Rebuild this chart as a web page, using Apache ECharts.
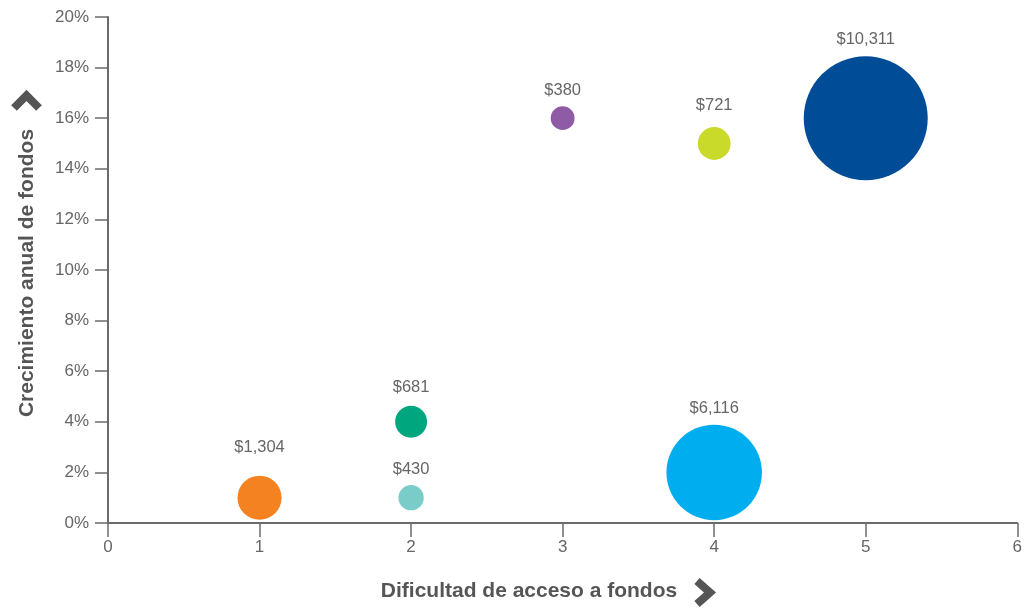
<!DOCTYPE html>
<html>
<head>
<meta charset="utf-8">
<script src="https://cdn.jsdelivr.net/npm/echarts@6/dist/echarts.min.js"></script>
<style>
  html, body { margin: 0; padding: 0; background: #fff; }
  #chart { width: 1025px; height: 609px; }
</style>
</head>
<body>
<div id="chart"></div>
<script>
// Funds: access difficulty (x), annual growth % (y), fund amount in $M (bubble)
const difficulty = [1, 2, 2, 3, 4, 4, 5];
const growth = [1, 4, 1, 16, 15, 2, 16];
const amounts = [1304, 681, 430, 380, 721, 6116, 10311];
const colors = ['#F58220', '#00A77E', '#7ACCC8', '#8E5BA6', '#C9DA2B', '#00AEEF', '#004C97'];
const xTicks = [0, 1, 2, 3, 4, 5, 6];
const yTicks = [0, 2, 4, 6, 8, 10, 12, 14, 16, 18, 20];

// gap between each bubble and its value label, in px
const labelGap = [20, 10, 7, 7.5, 13, 8, 8];

const maxAmount = Math.max(...amounts);
const maxDiameter = 124;
const axisColor = '#6b6b6b';
const textColor = '#666';
const titleColor = '#555';
const font = '"Liberation Sans", Arial, sans-serif';

const points = difficulty.map((x, i) => ({
  value: [x, growth[i], amounts[i]],
  itemStyle: { color: colors[i], opacity: 1 },
  label: { distance: labelGap[i] }
}));

const chart = echarts.init(document.getElementById('chart'));
chart.setOption({
  animation: false,
  textStyle: { fontFamily: font },
  grid: { left: 108, right: 7, top: 17, bottom: 86, containLabel: false },
  xAxis: {
    type: 'value',
    min: xTicks[0], max: xTicks[xTicks.length - 1], interval: 1,
    splitLine: { show: false },
    axisLine: { lineStyle: { color: axisColor, width: 2 } },
    axisTick: { length: 14, lineStyle: { color: axisColor, width: 1.5 } },
    axisLabel: { color: textColor, fontSize: 17, margin: 16, fontFamily: font }
  },
  yAxis: {
    type: 'value',
    min: yTicks[0], max: yTicks[yTicks.length - 1], interval: 2,
    splitLine: { show: false },
    axisLine: { show: true, lineStyle: { color: axisColor, width: 2 } },
    axisTick: { show: true, length: 13, lineStyle: { color: axisColor, width: 1.5 } },
    axisLabel: { color: textColor, fontSize: 17, margin: 19, formatter: '{value}%', fontFamily: font }
  },
  series: [{
    type: 'scatter',
    data: points,
    symbolSize: v => maxDiameter * Math.sqrt(v[2] / maxAmount),
    itemStyle: { opacity: 1 },
    label: {
      show: true,
      position: 'top',
      color: textColor,
      fontSize: 16.5,
      fontFamily: font,
      formatter: p => '$' + p.value[2].toLocaleString('en-US')
    },
    emphasis: { disabled: true }
  }],
  graphic: [
    {
      type: 'text',
      x: 529, y: 591,
      style: {
        text: 'Dificultad de acceso a fondos',
        fill: titleColor, font: 'bold 21px ' + font,
        textAlign: 'center', textVerticalAlign: 'middle'
      }
    },
    {
      type: 'polyline',
      shape: { points: [[697, 581], [710, 592.5], [697, 604]] },
      style: { stroke: titleColor, lineWidth: 8, fill: null }
    },
    {
      type: 'text',
      x: 27, y: 273,
      rotation: Math.PI / 2,
      style: {
        text: 'Crecimiento anual de fondos',
        fill: titleColor, font: 'bold 21px ' + font,
        textAlign: 'center', textVerticalAlign: 'middle'
      }
    },
    {
      type: 'polyline',
      shape: { points: [[14, 108], [26.5, 95.5], [39, 108]] },
      style: { stroke: titleColor, lineWidth: 8, fill: null }
    }
  ]
});
</script>
</body>
</html>
